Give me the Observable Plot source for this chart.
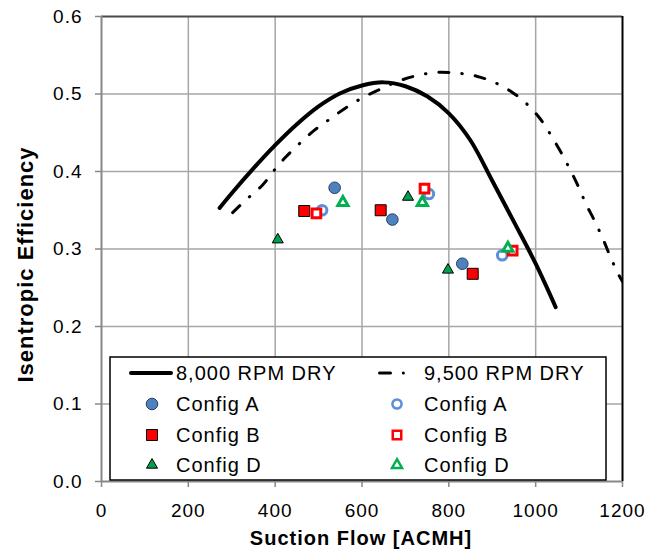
<!DOCTYPE html>
<html>
<head>
<meta charset="utf-8">
<script src="https://cdn.jsdelivr.net/npm/d3@7"></script>
<script src="https://cdn.jsdelivr.net/npm/@observablehq/plot@0.6"></script>
<style>
  html, body { margin: 0; padding: 0; background: white; }
  svg { display: block; }
</style>
</head>
<body>
<div id="chart"></div>
<script>
// ---- data ----
const xTicks = [0, 200, 400, 600, 800, 1000, 1200];
const yTicks = [0, 0.1, 0.2, 0.3, 0.4, 0.5, 0.6];

const rpm8000Flow = [272, 300, 350, 400, 450, 500, 550, 600, 650, 700, 750, 800, 850, 900, 950, 1000, 1046];
const rpm8000Eff  = [0.353, 0.372, 0.404, 0.434, 0.461, 0.484, 0.501, 0.511, 0.515, 0.510, 0.497, 0.475, 0.440, 0.388, 0.335, 0.281, 0.225];

const rpm9500Flow = [302, 334, 370, 397, 425, 458, 492, 527, 565, 604, 645, 686, 728, 773, 819, 864, 905, 944, 978, 1009, 1034, 1057, 1078, 1098, 1116, 1136, 1155, 1172, 1190, 1200];
const rpm9500Eff  = [0.347, 0.364, 0.382, 0.401, 0.419, 0.437, 0.454, 0.468, 0.483, 0.496, 0.507, 0.517, 0.524, 0.528, 0.527, 0.523, 0.515, 0.503, 0.488, 0.469, 0.448, 0.426, 0.404, 0.381, 0.358, 0.336, 0.313, 0.290, 0.268, 0.258];

const configAFilledFlow = [537, 670, 831];
const configAFilledEff  = [0.379, 0.338, 0.281];
const configBFilledFlow = [467, 643, 855];
const configBFilledEff  = [0.349, 0.350, 0.268];
const configDFilledFlow = [406, 706, 798];
const configDFilledEff  = [0.312, 0.367, 0.273];
const configAOpenFlow = [508, 754, 923];
const configAOpenEff  = [0.350, 0.371, 0.292];
const configBOpenFlow = [495, 744, 947];
const configBOpenEff  = [0.346, 0.378, 0.298];
const configDOpenFlow = [556, 739, 936];
const configDOpenEff  = [0.360, 0.360, 0.301];

const legendLabels = ["8,000 RPM DRY", "9,500 RPM DRY", "Config A", "Config A", "Config B", "Config B", "Config D", "Config D"];

// ---- helpers ----
const pts = (xs, ys) => xs.map((x, i) => ({x, y: ys[i]}));

const cBlueFill = "#4f81bd", cBlueEdge = "#24406a", cBlueOpen = "#5b8fdb";
const cRed = "#ff0000";
const cGreenFill = "#00a04e", cGreenOpen = "#00b050";

const chart = Plot.plot({
  width: 665,
  height: 552,
  marginLeft: 101,
  marginRight: 43,
  marginTop: 16,
  marginBottom: 71,
  style: {fontFamily: "'Liberation Sans', Arial, sans-serif", fontSize: "19px", color: "black", background: "white", overflow: "visible", letterSpacing: "1px"},
  x: {domain: [0, 1200]},
  y: {domain: [0, 0.6]},
  marks: [
    Plot.gridX(xTicks.slice(1, -1), {stroke: "#a6a6a6", strokeOpacity: 1, strokeWidth: 1.5}),
    Plot.gridY(yTicks.slice(1, -1), {stroke: "#a6a6a6", strokeOpacity: 1, strokeWidth: 1.5}),
    Plot.ruleY([yTicks[yTicks.length - 1]], {stroke: "#4a4a4a", strokeWidth: 2}),
    Plot.ruleX([xTicks[xTicks.length - 1]], {stroke: "black", strokeWidth: 2}),
    Plot.ruleX([xTicks[0]], {stroke: "#888", strokeWidth: 2}),
    Plot.ruleY([yTicks[0]], {stroke: "#888", strokeWidth: 2}),
    Plot.axisX(xTicks, {tickSize: 6, tickPadding: 16, stroke: "#888", strokeWidth: 1.5, fill: "black", label: null, tickFormat: d3.format("d")}),
    Plot.axisY(yTicks, {tickSize: 6, tickPadding: 13, stroke: "#888", strokeWidth: 1.5, fill: "black", label: null, tickFormat: d3.format(".1f")}),
    Plot.line(pts(rpm9500Flow, rpm9500Eff), {x: "x", y: "y", stroke: "black", strokeWidth: 3, curve: "catmull-rom", strokeDasharray: "10,13,0.5,13", strokeLinecap: "round", clip: true}),
    Plot.line(pts(rpm8000Flow, rpm8000Eff), {x: "x", y: "y", stroke: "black", strokeWidth: 4, curve: "catmull-rom", strokeLinecap: "round"}),
    Plot.dot(pts(configAFilledFlow, configAFilledEff), {x: "x", y: "y", symbol: "circle", r: 5.8, fill: cBlueFill, stroke: cBlueEdge, strokeWidth: 1}),
    Plot.dot(pts(configBFilledFlow, configBFilledEff), {x: "x", y: "y", symbol: "square", r: 6.2, fill: cRed, stroke: "black", strokeWidth: 1}),
    Plot.dot(pts(configDFilledFlow, configDFilledEff), {x: "x", y: "y", symbol: "triangle", r: 4.1, fill: cGreenFill, stroke: "black", strokeWidth: 1}),
    Plot.dot(pts(configAOpenFlow, configAOpenEff), {x: "x", y: "y", symbol: "circle", r: 4.8, fill: "none", stroke: cBlueOpen, strokeWidth: 3}),
    Plot.dot(pts(configBOpenFlow, configBOpenEff), {x: "x", y: "y", symbol: "square", r: 4.9, fill: "white", stroke: cRed, strokeWidth: 3}),
    Plot.dot(pts(configDOpenFlow, configDOpenEff), {x: "x", y: "y", symbol: "triangle", r: 3.8, fill: "white", stroke: cGreenOpen, strokeWidth: 3}),
    Plot.text(["Suction Flow [ACMH]"], {frameAnchor: "bottom", textAnchor: "middle", dx: -1, dy: 57, lineAnchor: "middle", fontWeight: "bold", fontSize: 20, fill: "black"}),
    Plot.text(["Isentropic Efficiency"], {frameAnchor: "left", textAnchor: "middle", rotate: -90, dx: -76, dy: 15.5, lineAnchor: "middle", fontWeight: "bold", fontSize: 22, fill: "black"})
  ]
});

document.getElementById("chart").appendChild(chart);

// ---- legend (inside plot area, lower part) ----
const svg = d3.select(chart);
const lg = svg.append("g")
  .attr("font-family", "'Liberation Sans', Arial, sans-serif")
  .attr("font-size", 20)
  .attr("text-anchor", "start")
  .style("letter-spacing", "1px");
lg.append("rect").attr("x", 110).attr("y", 357).attr("width", 496).attr("height", 123)
  .attr("fill", "white").attr("stroke", "black").attr("stroke-width", 1.5);

const rowY = [373, 404, 435, 465];
const colMarkX = [152, 397];
const colTextX = [176, 424];

// line samples
lg.append("line").attr("x1", 131).attr("x2", 171).attr("y1", rowY[0]).attr("y2", rowY[0])
  .attr("stroke", "black").attr("stroke-width", 4).attr("stroke-linecap", "round");
lg.append("line").attr("x1", 379.5).attr("x2", 405).attr("y1", rowY[0]).attr("y2", rowY[0])
  .attr("stroke", "black").attr("stroke-width", 3).attr("stroke-linecap", "round")
  .attr("stroke-dasharray", "11,12.8,0.1,30");

const sym = (type, r) => d3.symbol(type, Math.PI * r * r)();
const markerSpecs = [
  null, null,
  {d: sym(d3.symbolCircle, 5.8), fill: cBlueFill, stroke: cBlueEdge, sw: 1},
  {d: sym(d3.symbolCircle, 4.6), fill: "none", stroke: cBlueOpen, sw: 2.5},
  {d: sym(d3.symbolSquare, 6.2), fill: cRed, stroke: "black", sw: 1},
  {d: sym(d3.symbolSquare, 4.8), fill: "white", stroke: cRed, sw: 2.5},
  {d: sym(d3.symbolTriangle, 4.1), fill: cGreenFill, stroke: "black", sw: 1},
  {d: sym(d3.symbolTriangle, 3.7), fill: "white", stroke: cGreenOpen, sw: 2.5}
];

legendLabels.forEach((label, i) => {
  const row = Math.floor(i / 2), col = i % 2;
  const m = markerSpecs[i];
  if (m) {
    lg.append("path").attr("d", m.d)
      .attr("transform", `translate(${colMarkX[col]},${rowY[row]})`)
      .attr("fill", m.fill).attr("stroke", m.stroke).attr("stroke-width", m.sw);
  }
  lg.append("text").attr("x", colTextX[col]).attr("y", rowY[row]).attr("dy", "0.35em")
    .attr("fill", "black").text(label);
});
</script>
</body>
</html>
